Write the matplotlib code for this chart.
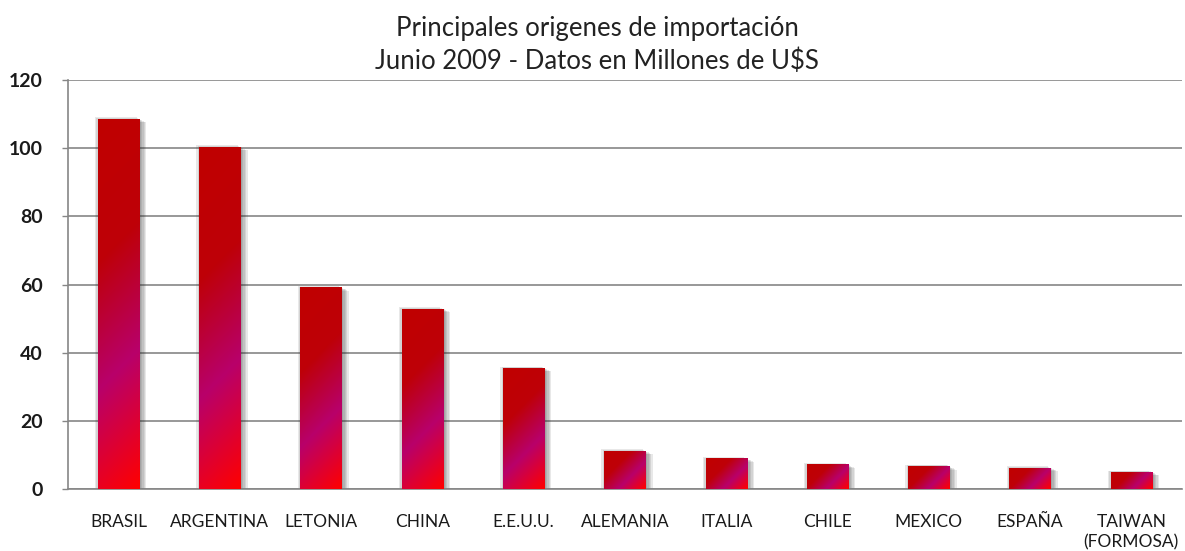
import numpy as np
import matplotlib
matplotlib.use("Agg")
import matplotlib.pyplot as plt
import matplotlib.patheffects as pe
from matplotlib.colors import LinearSegmentedColormap

paises = ["BRASIL", "ARGENTINA", "LETONIA", "CHINA", "E.E.U.U.", "ALEMANIA",
          "ITALIA", "CHILE", "MEXICO", "ESPAÑA", "TAIWAN\n(FORMOSA)"]
valores = [108.6, 100.4, 59.2, 52.9, 35.5, 11.2, 9.0, 7.2, 6.7, 6.3, 5.0]
yticks = [0, 20, 40, 60, 80, 100, 120]

plt.rcParams["font.family"] = ["Lato", "DejaVu Sans"]

W, H = 1185, 551
fig = plt.figure(figsize=(W / 100, H / 100), dpi=100)
ax_box = [68 / W, 1 - 489 / H, (1182 - 68) / W, (489 - 80) / H]
ax = fig.add_axes(ax_box)

x = np.arange(len(paises))
ax.set_xlim(-0.5, len(paises) - 0.5)
ax.set_ylim(0, 120)

# sombra suave a ambos lados
sombras = [pe.SimplePatchShadow(offset=(d, -d * 0.5), shadow_rgbFace="#303030",
                                alpha=0.11) for d in (-2, -1, 1, 2, 3, 4, 5)]
bars = ax.bar(x, valores, width=0.41, facecolor="none", edgecolor="none",
              zorder=2)
for b in bars:
    b.set_path_effects(sombras)

cmap = LinearSegmentedColormap.from_list(
    "grad", [(0.0, "#C00000"), (0.35, "#BE0008"), (0.66, "#B8006A"),
             (0.85, "#E0002E"), (1.0, "#FF0000")])

px_x = ax_box[2] * W / len(paises)
px_y = ax_box[3] * H / 120
for b in bars:
    w_px = b.get_width() * px_x
    h_px = b.get_height() * px_y
    nu, nv = max(int(w_px), 2), max(int(h_px), 2)
    u = np.linspace(0, 1, nu)[None, :]
    v = np.linspace(0, 1, nv)[:, None]
    t = (u * w_px + v * h_px) / (w_px + h_px)
    im = ax.imshow(t, cmap=cmap, vmin=0, vmax=1, aspect="auto",
                   extent=(b.get_x(), b.get_x() + b.get_width(), 0, b.get_height()),
                   origin="upper", zorder=3, interpolation="bilinear")
    im.set_clip_path(b)
ax.set_xlim(-0.5, len(paises) - 0.5)
ax.set_ylim(0, 120)

ax.set_yticks(yticks)
ax.set_yticklabels([str(v) for v in yticks], fontsize=14, fontweight="bold",
                   color="#1a1a1a")
ax.set_xticks(x)
ax.set_xticklabels(paises, fontsize=12.5, color="#1a1a1a", linespacing=1.35,
                   va="top")
ax.tick_params(axis="x", length=0, pad=18)
ax.tick_params(axis="y", length=4, color="#868686", width=1, pad=14)

ax.grid(axis="y", color="#868686", linewidth=1.2, zorder=0)
ax.set_axisbelow(True)
for s in ["top", "right"]:
    ax.spines[s].set_visible(False)
for s in ["left", "bottom"]:
    ax.spines[s].set_color("#868686")
    ax.spines[s].set_linewidth(1.2)

fig.text(0.504, 0.948, "Principales origenes de importación",
         ha="center", va="center", fontsize=18.5, color="#222222")
fig.text(0.504, 0.889, "Junio 2009 - Datos en Millones de U$S",
         ha="center", va="center", fontsize=18.5, color="#222222")

fig.savefig("out.png", dpi=100)
